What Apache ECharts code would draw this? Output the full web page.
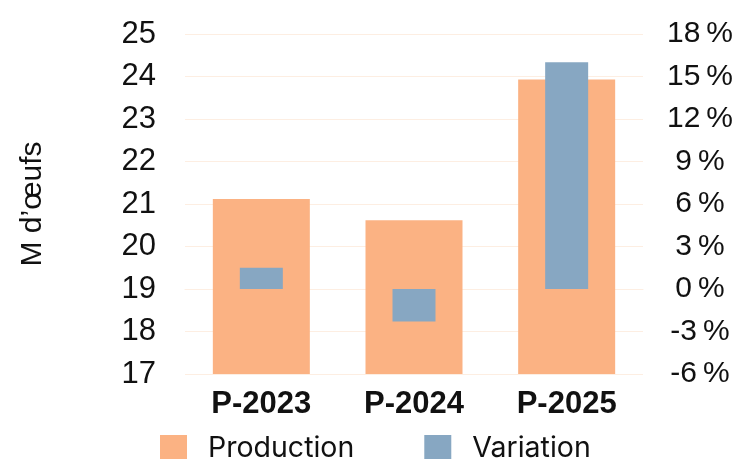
<!DOCTYPE html>
<html>
<head>
<meta charset="utf-8">
<script src="https://cdn.jsdelivr.net/npm/echarts@6/dist/echarts.min.js"></script>
<style>
  html, body { margin: 0; padding: 0; background: #fff; }
  #main { width: 737px; height: 459px; }
</style>
</head>
<body>
<div id="main"></div>
<script>
// données
var categories = ['P-2023', 'P-2024', 'P-2025'];
var production = [21.12, 20.62, 23.93];   // M d'œufs
var variation = [1.5, -2.3, 16.0];        // %

var font = "'Liberation Sans', Arial, sans-serif";
var myChart = echarts.init(document.getElementById('main'));
var option = {
  animation: false,
  textStyle: { fontFamily: font },
  grid: { left: 185, right: 94, top: 34, bottom: 85 },
  legend: {
    left: 160,
    top: 434,
    padding: 0,
    itemWidth: 27,
    itemHeight: 27,
    itemGap: 70,
    icon: 'rect',
    textStyle: { fontSize: 28.5, color: '#111', fontFamily: 'Inter', padding: [0, 0, 0, 16] },
    data: ['Production', 'Variation']
  },
  xAxis: [{
    type: 'category',
    data: categories,
    axisTick: { show: false },
    axisLine: { show: true, lineStyle: { color: '#fdeee2', width: 1 } },
    axisLabel: { fontSize: 31, fontWeight: 'bold', color: '#111', margin: 15 }
  }, {
    type: 'category',
    data: categories,
    show: false
  }],
  yAxis: [{
    type: 'value',
    min: 17,
    max: 25,
    interval: 1,
    name: 'M d\u2019œufs',
    nameLocation: 'middle',
    nameGap: 137,
    nameRotate: 90,
    nameTextStyle: { fontSize: 30, color: '#111' },
    axisLine: { show: false },
    axisTick: { show: false },
    axisLabel: { fontSize: 31, color: '#111', margin: 29 },
    splitLine: { lineStyle: { color: '#fdeee2', width: 1 } }
  }, {
    type: 'value',
    min: -6,
    max: 18,
    interval: 3,
    position: 'right',
    axisLine: { show: false },
    axisTick: { show: false },
    splitLine: { show: false },
    axisLabel: { fontSize: 30, color: '#111', align: 'center', margin: 57, formatter: '{value}\u2009%' }
  }],
  series: [{
    name: 'Production',
    type: 'bar',
    xAxisIndex: 0,
    yAxisIndex: 0,
    barWidth: 97,
    color: '#fbb283',
    data: production
  }, {
    name: 'Variation',
    type: 'bar',
    xAxisIndex: 1,
    yAxisIndex: 1,
    barWidth: 43,
    color: '#87a7c2',
    data: variation
  }]
};
myChart.setOption(option);
</script>
</body>
</html>
